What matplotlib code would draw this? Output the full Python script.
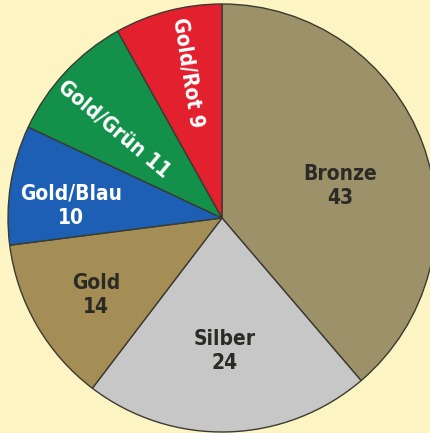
import matplotlib.pyplot as plt
from matplotlib import font_manager

labels = ["Bronze", "Silber", "Gold", "Gold/Blau", "Gold/Grün", "Gold/Rot"]
values = [43, 24, 14, 10, 11, 9]
colors = ["#9c9168", "#c7c7c7", "#a58e56", "#1c5fb4", "#13914b", "#e2202e"]
text_colors = ["#2b2b26", "#2b2b26", "#2b2b26", "white", "white", "white"]

# look for a narrow bold face, otherwise Liberation Sans
family = "Liberation Sans"
stretch = "normal"
for f in font_manager.fontManager.ttflist:
    if f.weight in ("bold", 700) and ("Narrow" in f.fname or "Condensed" in f.fname):
        family = f.name
        stretch = f.stretch
        break

plt.rcParams["font.family"] = [family, "DejaVu Sans"]

fig = plt.figure(figsize=(4.31, 4.33), dpi=100)
fig.patch.set_facecolor("#fdf4c4")
ax = fig.add_axes([0, 0, 1, 1])

ax.pie(
    values,
    colors=colors,
    startangle=90,
    counterclock=False,
    center=(222, 215),
    radius=214,
    frame=True,
    wedgeprops=dict(edgecolor="#3a3a30", linewidth=1.0),
)
ax.set_xlim(0, 431)
ax.set_ylim(0, 433)
ax.set_aspect("equal")
ax.axis("off")

# label layout (x, y in pixels from bottom-left, rotation)
label_layout = [
    (340, 247, 0),
    (225, 82, 0),
    (96, 138, 0),
    (71, 227, 0),
    (114, 304, -40),
    (188, 360, -81),
]

for i, (x, y, rot) in enumerate(label_layout):
    if rot == 0:
        txt = "{}\n{}".format(labels[i], values[i])
    else:
        txt = "{} {}".format(labels[i], values[i])
    ax.text(x, y, txt, ha="center", va="center", rotation=rot,
            rotation_mode="anchor", fontsize=15, fontweight="bold",
            fontstretch=stretch, color=text_colors[i], linespacing=1.3)

fig.savefig("out.png", dpi=100, facecolor=fig.get_facecolor())
